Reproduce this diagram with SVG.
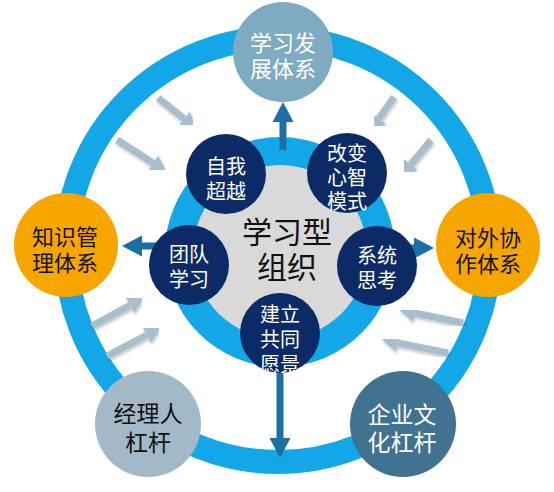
<svg xmlns="http://www.w3.org/2000/svg" width="554" height="492" viewBox="0 0 554 492">
<defs>
<style>
.t{font-family:"Liberation Sans","Noto Sans CJK SC",sans-serif;text-anchor:middle}
.w{fill:#ffffff}
.k{fill:#111111}
.in{font-size:20px}
.out{font-size:22px}
.ga{stroke:#a7bfcc;stroke-width:7;fill:none;marker-end:url(#gh);filter:url(#sh)}
.da{stroke:#1c6ea4;stroke-width:7;fill:none;marker-end:url(#dh)}
.navy{fill:#0c2a66}
</style>
<marker id="gh" markerUnits="userSpaceOnUse" markerWidth="16" markerHeight="18" refX="0" refY="9" orient="auto" overflow="visible">
<path d="M0,0 L16,9 L0,18 Z" fill="#a7bfcc"/>
</marker>
<marker id="dh" markerUnits="userSpaceOnUse" markerWidth="20" markerHeight="21" refX="0" refY="10.5" orient="auto" overflow="visible">
<path d="M0,0 L20,10.5 L0,21 Z" fill="#1c6ea4"/>
</marker>
<filter id="sh" x="-30%" y="-30%" width="160%" height="160%">
<feDropShadow dx="1" dy="2" stdDeviation="1.5" flood-color="#000000" flood-opacity="0.25"/>
</filter>
</defs>

<g id="outer-ring">
<circle cx="278" cy="250" r="212" fill="none" stroke="#14a7e8" stroke-width="24"/>
</g>

<g id="connectors">
<line class="ga" x1="158" y1="98" x2="184.2" y2="118.7"/>
<line class="ga" x1="117" y1="140" x2="153.3" y2="163"/>
<line class="ga" x1="394" y1="97" x2="378.7" y2="118.7"/>
<line class="ga" x1="431" y1="140" x2="410.6" y2="164.5"/>
<line class="ga" x1="92" y1="326" x2="129.9" y2="305.2"/>
<line class="ga" x1="107" y1="356" x2="146.7" y2="335"/>
<line class="ga" x1="463" y1="323" x2="414.7" y2="313"/>
<line class="ga" x1="448" y1="353" x2="397.7" y2="342.9"/>
</g>

<g id="node-learning-dev">
<circle cx="283" cy="52" r="50" fill="#7eaac2"/>
<text class="t out w" x="283" y="51">学习发<tspan x="283" dy="26">展体系</tspan></text>
</g>
<g id="node-knowledge">
<circle cx="66" cy="245" r="52" fill="#f7a600"/>
<text class="t out k" x="65" y="245">知识管<tspan x="65" dy="26">理体系</tspan></text>
</g>
<g id="node-external">
<circle cx="488" cy="245" r="52" fill="#f7a600"/>
<text class="t out k" x="488" y="246">对外协<tspan x="488" dy="26">作体系</tspan></text>
</g>
<g id="node-manager">
<circle cx="148" cy="424" r="53" fill="#a3b9c7"/>
<text class="t k" style="font-size:23px" x="148" y="422">经理人<tspan x="148" dy="29">杠杆</tspan></text>
</g>
<g id="node-culture">
<circle cx="403" cy="424" r="53" fill="#41728f"/>
<text class="t w" style="font-size:23px" x="402" y="423">企业文<tspan x="402" dy="28">化杠杆</tspan></text>
</g>

<g id="node-center">
<circle cx="280" cy="252" r="115" fill="#14a7e8"/>
<circle cx="280" cy="252" r="87" fill="#d9d9d9"/>
<text class="t k" style="font-size:30px" x="287" y="243">学习型<tspan x="287" dy="35">组织</tspan></text>
</g>

<g id="main-connectors">
<line class="da" x1="283" y1="150" x2="283" y2="122"/>
<line class="da" x1="280" y1="370" x2="280" y2="438"/>
<line class="da" x1="156" y1="246" x2="142" y2="246"/>
<line class="da" x1="408" y1="248" x2="414" y2="248"/>
</g>

<g id="node-self">
<circle class="navy" cx="226" cy="174" r="40"/>
<text class="t in w" x="226" y="174">自我<tspan x="226" dy="25">超越</tspan></text>
</g>
<g id="node-mental">
<circle class="navy" cx="347" cy="173" r="40"/>
<text class="t in w" x="347" y="161">改变<tspan x="347" dy="24">心智</tspan><tspan x="347" dy="24">模式</tspan></text>
</g>
<g id="node-team">
<circle class="navy" cx="189" cy="265" r="40"/>
<text class="t in w" x="189" y="262">团队<tspan x="189" dy="25">学习</tspan></text>
</g>
<g id="node-systems">
<circle class="navy" cx="377" cy="266" r="40"/>
<text class="t in w" x="377" y="263">系统<tspan x="377" dy="25">思考</tspan></text>
</g>
<g id="node-vision">
<circle class="navy" cx="280" cy="333" r="40"/>
<text class="t in w" x="280" y="322">建立<tspan x="280" dy="25">共同</tspan><tspan x="280" dy="25">愿景</tspan></text>
</g>
</svg>
